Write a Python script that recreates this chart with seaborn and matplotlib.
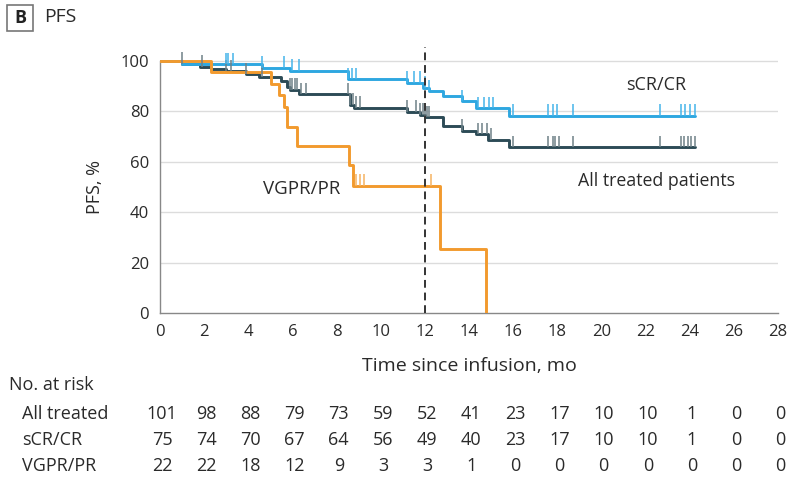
import numpy as np
import pandas as pd
import matplotlib
matplotlib.use("Agg")
import matplotlib.pyplot as plt
import seaborn as sns
from matplotlib.patches import Rectangle

# ---------------- data ----------------
all_t = [0, 1.0, 1.8, 2.3, 3.0, 3.9, 4.5, 5.5, 5.74, 5.9, 6.3, 8.6, 8.8, 11.2, 11.8, 12.0,
         12.8, 13.7, 14.3, 14.85, 15.8, 24.25]
all_s = [100, 98.8, 97.7, 96.8, 95.8, 94.7, 93.8, 92.2, 89.8, 88.5, 86.8, 82.5, 81.5, 79.9,
         78.6, 77.6, 74.2, 72.2, 70.9, 68.7, 65.8, 65.8]
all_cens = [1.0, 1.9, 3.0, 3.2, 3.9, 4.6, 5.9, 6.0, 6.1, 6.2, 6.4, 6.6, 8.5, 8.6, 8.75, 8.9,
            9.05, 11.2, 11.6, 11.8, 11.9, 12.0, 12.1, 12.2, 13.7, 14.4, 14.6, 14.8, 15.0,
            16.0, 17.6, 17.8, 17.9, 18.1, 18.7, 22.65, 23.6, 23.75, 23.9, 24.05, 24.25]

cr_t = [0, 1.0, 4.6, 5.9, 8.5, 11.2, 11.9, 12.2, 12.8, 13.7, 14.3, 15.8, 24.25]
cr_s = [100, 98.7, 97.3, 96.0, 92.7, 91.2, 89.4, 88.0, 85.9, 83.9, 81.2, 78.2, 78.2]
cr_cens = [3.0, 3.1, 3.3, 4.6, 5.6, 6.0, 6.3, 8.5, 8.7, 8.9, 11.2, 11.5, 11.8, 12.0, 12.2,
           13.7, 14.4, 14.7, 14.9, 15.1, 16.0, 17.6, 17.8, 18.0, 18.7, 22.65, 23.6, 23.8,
           24.0, 24.25]

pr_t = [0, 2.3, 5.05, 5.4, 5.6, 5.75, 6.2, 8.55, 8.75, 12.7, 14.75]
pr_s = [100, 95.5, 91.0, 86.4, 81.8, 73.6, 66.2, 58.8, 50.4, 25.2, 0]
pr_cens = [8.9, 9.08, 9.26, 12.3]

risk_times = list(range(0, 30, 2))
risk_labels = ["All treated", "sCR/CR", "VGPR/PR"]
risk_all = [101, 98, 88, 79, 73, 59, 52, 41, 23, 17, 10, 10, 1, 0, 0]
risk_cr = [75, 74, 70, 67, 64, 56, 49, 40, 23, 17, 10, 10, 1, 0, 0]
risk_pr = [22, 22, 18, 12, 9, 3, 3, 1, 0, 0, 0, 0, 0, 0, 0]

group_names = ["All treated patients", "sCR/CR", "VGPR/PR"]

# ---------------- style ----------------
sns.set_style("white")
plt.rcParams["font.family"] = ["Open Sans", "DejaVu Sans"]

C_ALL = "#2c4b56"
C_CR = "#2ea7e0"
C_PR = "#f29a2e"
TXT = "#2a2a2a"

fig = plt.figure(figsize=(8.0, 4.95), dpi=100)
ax = fig.add_axes([0.2, 0.3677, 0.7725, 0.5373])

df = pd.concat([
    pd.DataFrame({"t": all_t, "s": all_s, "g": group_names[0]}),
    pd.DataFrame({"t": cr_t, "s": cr_s, "g": group_names[1]}),
    pd.DataFrame({"t": pr_t, "s": pr_s, "g": group_names[2]}),
])
palette = {group_names[0]: C_ALL, group_names[1]: C_CR, group_names[2]: C_PR}

ax.set_ylim(0, 105.5)
ax.set_xlim(0, 28)
for yv in [20, 40, 60, 80, 100]:
    ax.axhline(yv, color="#dcdcdc", lw=1.0, zorder=0)

sns.lineplot(data=df, x="t", y="s", hue="g", palette=palette, estimator=None, sort=False,
             drawstyle="steps-post", lw=2.1, legend=False, ax=ax, zorder=3)


def step_val(ts, ss, x):
    i = np.searchsorted(np.asarray(ts), x, side="right") - 1
    return np.asarray(ss)[i]


for ts, ss, cens, col in [(all_t, all_s, all_cens, "#6f8188"),
                          (cr_t, cr_s, cr_cens, "#45b4ea"),
                          (pr_t, pr_s, pr_cens, "#f5b362")]:
    yv = np.array([step_val(ts, ss, c) for c in cens])
    ax.vlines(cens, yv, yv + 4.6, color=col, lw=1.1, zorder=4)

ax.axvline(12, color="#333333", lw=1.4, ls=(0, (4, 2.5)), zorder=5)

ax.set_xticks(range(0, 30, 2))
ax.set_yticks(range(0, 101, 20))
ax.tick_params(axis="both", direction="out", length=5, width=1, color="#888888",
               labelsize=12, labelcolor=TXT, pad=3)
for s in ["top", "right"]:
    ax.spines[s].set_visible(False)
for s in ["left", "bottom"]:
    ax.spines[s].set_color("#888888")
    ax.spines[s].set_linewidth(1)
ax.spines["left"].set_bounds(0, 100)
ax.set_xlabel("Time since infusion, mo", fontsize=14, color=TXT, labelpad=12)
ax.set_ylabel("")
ax.text(-2.95, 50, "PFS, %", rotation=90, ha="center", va="center", fontsize=13, color=TXT)

ax.text(22.5, 90.5, "sCR/CR", ha="center", va="center", fontsize=13, color=TXT)
ax.text(22.5, 52.5, "All treated patients", ha="center", va="center", fontsize=12.8, color=TXT)
ax.text(6.4, 49.3, "VGPR/PR", ha="center", va="center", fontsize=13.5, color=TXT)

# panel label
fig.patches.append(Rectangle((7 / 800, 1 - 31 / 495), 26 / 800, 26 / 495, transform=fig.transFigure,
                             fill=False, ec="#777777", lw=1.2))
fig.text(20 / 800, 1 - 18 / 495, "B", ha="center", va="center", fontsize=13,
         fontweight="bold", color="#222222")
fig.text(44 / 800, 1 - 17.5 / 495, "PFS", ha="left", va="center", fontsize=14, color=TXT)

# risk table
trans = matplotlib.transforms.blended_transform_factory(ax.transData, fig.transFigure)
fig.text(9 / 800, 1 - 385 / 495, "No. at risk", ha="left", va="center", fontsize=13,
         color=TXT)
for row, (lab, vals) in enumerate(zip(risk_labels, [risk_all, risk_cr, risk_pr])):
    yy = 1 - (414 + 26 * row) / 495
    fig.text(22 / 800, yy, lab, ha="left", va="center", fontsize=13, color=TXT)
    for t, v in zip(risk_times, vals):
        ax.text(t + 0.1, yy, str(v), transform=trans, ha="center", va="center",
                fontsize=13, color=TXT, clip_on=False)

fig.savefig("out.png", dpi=100)
